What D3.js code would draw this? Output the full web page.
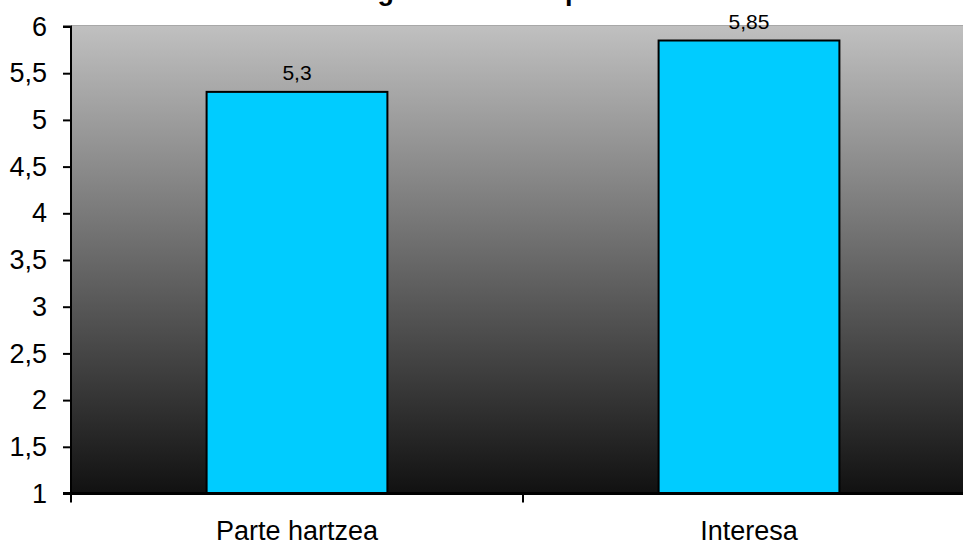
<!DOCTYPE html>
<html><head><meta charset="utf-8">
<script src="https://cdn.jsdelivr.net/npm/d3@7"></script>
<style>
html,body{margin:0;padding:0;background:#fff;overflow:hidden;}
svg{display:block;font-family:"Liberation Sans",Arial,sans-serif;}
</style></head>
<body>
<svg id="chart" width="963" height="545"></svg>
<script>
const categories = ["Parte hartzea", "Interesa"];
const values = [5.3, 5.85];
const valueLabels = ["5,3", "5,85"];
const yTicks = [1, 1.5, 2, 2.5, 3, 3.5, 4, 4.5, 5, 5.5, 6];
const titleText = "Ongizatearen eta parte hartzearen batezbestekoa";

const svg = d3.select("#chart");
const m = {left: 71, top: 26.5, right: 975, bottom: 493.5};

const x = d3.scaleBand().domain(categories).range([m.left, m.right]).paddingInner(0.6).paddingOuter(0.3);
const y = d3.scaleLinear().domain([1, 6]).range([m.bottom, m.top]);

const defs = svg.append("defs");
const g = defs.append("linearGradient").attr("id","bg").attr("x1",0).attr("y1",0).attr("x2",0).attr("y2",1);
g.append("stop").attr("offset","0%").attr("stop-color","#c0c0c0");
g.append("stop").attr("offset","100%").attr("stop-color","#111111");

svg.append("rect").attr("x", m.left).attr("y", m.top - 1).attr("width", m.right - m.left).attr("height", m.bottom - m.top + 1)
  .attr("fill", "url(#bg)");
svg.append("line").attr("x1", m.left).attr("x2", m.right).attr("y1", m.top - 1).attr("y2", m.top - 1)
  .attr("stroke", "#a8a8a8").attr("stroke-width", 1);

// title (cut off at top, as in the reference)
svg.append("text").attr("x", 340).attr("y", 0).attr("text-anchor","start")
  .attr("font-size", 27).attr("font-weight","bold").attr("fill","#000").text(titleText);

// bars
svg.selectAll("rect.bar").data(values).enter().append("rect").attr("class","bar")
  .attr("x", (d,i) => x(categories[i]))
  .attr("y", d => y(d))
  .attr("width", x.bandwidth())
  .attr("height", d => y(1) - y(d))
  .attr("fill", "#00ccff").attr("stroke", "#000").attr("stroke-width", 2);

svg.selectAll("text.val").data(values).enter().append("text").attr("class","val")
  .attr("x", (d,i) => x(categories[i]) + x.bandwidth()/2)
  .attr("y", d => y(d) - 12)
  .attr("text-anchor","middle").attr("font-size", 21).attr("fill","#000")
  .text((d,i) => valueLabels[i]);

// y axis
const yAxis = d3.axisLeft(y).tickValues(yTicks).tickSize(8).tickPadding(16)
  .tickFormat(d => String(d).replace(".", ","));
const ya = svg.append("g").attr("transform", `translate(${m.left},0)`).call(yAxis);
ya.attr("font-size", 27).attr("font-family", "Liberation Sans, Arial, sans-serif");
ya.select(".domain").attr("stroke","#000").attr("stroke-width",2).attr("d", `M-8,${m.top}H0V${m.bottom}`);
ya.selectAll(".tick line").attr("stroke","#000").attr("stroke-width",2);
ya.selectAll(".tick text").attr("font-size", 27).attr("fill","#000");

// x axis
const xa = svg.append("g").attr("transform", `translate(0,${m.bottom})`);
xa.append("line").attr("x1", m.left - 8).attr("x2", m.right).attr("y1", 0).attr("y2", 0)
  .attr("stroke","#000").attr("stroke-width", 3);
const step = x.step();
const bounds = [m.left, m.left + step, m.left + 2*step];
xa.selectAll("line.xt").data(bounds).enter().append("line").attr("class","xt")
  .attr("x1", d => d).attr("x2", d => d).attr("y1", 0).attr("y2", 9)
  .attr("stroke","#000").attr("stroke-width", 2);
xa.selectAll("text.cat").data(categories).enter().append("text").attr("class","cat")
  .attr("x", d => x(d) + x.bandwidth()/2).attr("y", 46)
  .attr("text-anchor","middle").attr("font-size", 27).attr("fill","#000").text(d => d);
</script>
</body></html>
